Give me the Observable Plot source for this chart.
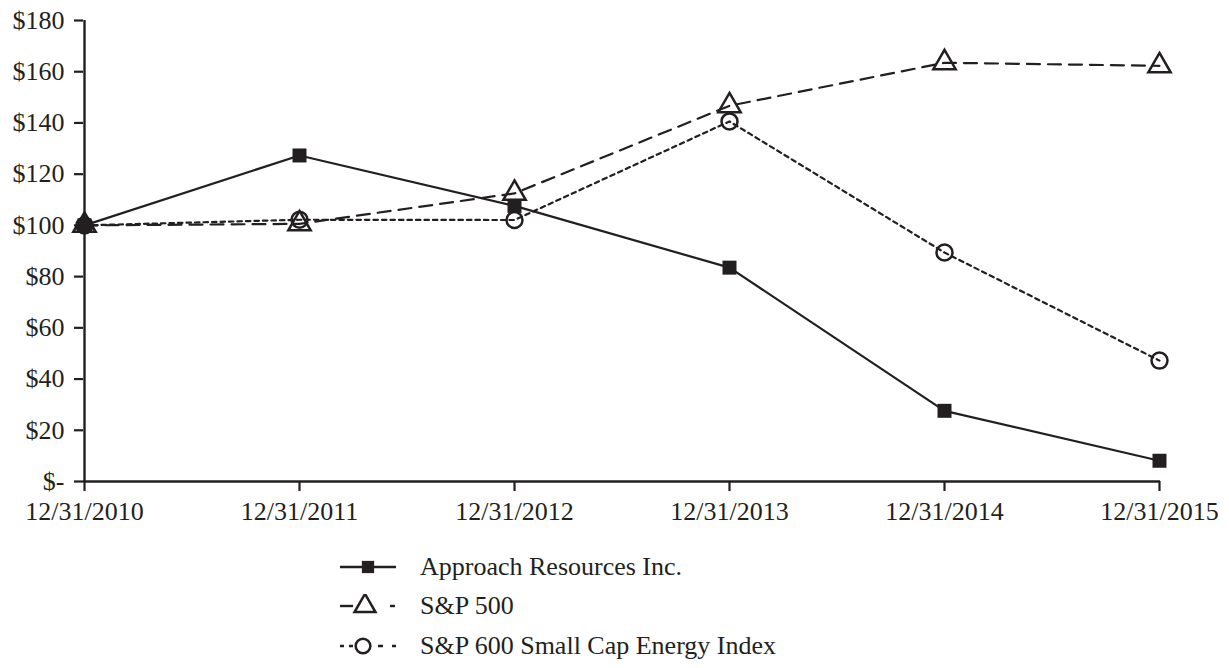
<!DOCTYPE html>
<html>
<head>
<meta charset="utf-8">
<script src="https://cdn.jsdelivr.net/npm/d3@7"></script>
<script src="https://cdn.jsdelivr.net/npm/@observablehq/plot@0.6"></script>
<style>
  html, body { margin: 0; padding: 0; background: #fff; }
  body { width: 1229px; height: 668px; overflow: hidden; font-family: "Liberation Serif", serif; color: #231f20; }
  #legend { position: absolute; left: 338px; top: 547px; }
  .row { display: flex; align-items: center; height: 39.5px; font-size: 26px; }
  .row svg { margin-right: 20px; }
</style>
</head>
<body>
<div id="chart"></div>
<div id="legend"></div>
<script>
const dates = ["12/31/2010", "12/31/2011", "12/31/2012", "12/31/2013", "12/31/2014", "12/31/2015"];
const approach = [100, 127.3, 107.6, 83.5, 27.6, 8.1];
const sp500 = [100, 100.6, 112.5, 146.7, 163.5, 162.3];
const energy = [100, 102.2, 102.1, 140.6, 89.4, 47.2];
const yTicks = [0, 20, 40, 60, 80, 100, 120, 140, 160, 180];
const seriesNames = ["Approach Resources Inc.", "S&P 500", "S&P 600 Small Cap Energy Index"];

const ink = "#231f20";
const rows = (vals) => dates.map((d, i) => ({date: d, value: vals[i]}));
const A = rows(approach), S = rows(sp500), E = rows(energy);

const chart = Plot.plot({
  width: 1229,
  height: 530,
  marginLeft: 83,
  marginRight: 69,
  marginTop: 20,
  marginBottom: 49,
  style: {fontFamily: "Liberation Serif", fontSize: "26px", color: ink, background: "#fff"},
  x: {type: "point", domain: dates, padding: 0, label: null},
  y: {domain: [0, 180], label: null},
  marks: [
    Plot.axisY({ticks: yTicks, tickSize: 9, tickPadding: 10, strokeWidth: 2.2, stroke: ink, fill: ink,
      tickFormat: d => d === 0 ? "$-" : "$" + d, fontSize: 26}),
    Plot.axisX({tickSize: 10, tickPadding: 10, strokeWidth: 2.2, stroke: ink, fill: ink, fontSize: 26}),
    Plot.ruleY([0], {stroke: ink, strokeWidth: 2.4}),
    Plot.ruleX([dates[0]], {y1: 0, y2: 180, stroke: ink, strokeWidth: 2.4}),
    Plot.line(S, {x: "date", y: "value", stroke: ink, strokeWidth: 2.2, strokeDasharray: "13,8"}),
    Plot.line(E, {x: "date", y: "value", stroke: ink, strokeWidth: 2.2, strokeDasharray: "4.5,4"}),
    Plot.line(A, {x: "date", y: "value", stroke: ink, strokeWidth: 2.2}),
    Plot.dot(S, {x: "date", y: "value", symbol: "triangle", r: 8.3, stroke: ink, strokeWidth: 2.5, fill: "none"}),
    Plot.dot(E, {x: "date", y: "value", symbol: "circle", r: 8, stroke: ink, strokeWidth: 2.5, fill: "none"}),
    Plot.dot(A, {x: "date", y: "value", symbol: "square", r: 7.9, fill: ink, stroke: "none"})
  ]
});
document.getElementById("chart").appendChild(chart);

// Legend
const legend = d3.select("#legend");
const styles = [
  {symbol: d3.symbolSquare, size: 150, fill: ink, stroke: "none", cx: 30},
  {symbol: d3.symbolTriangle, size: 190, fill: "none", stroke: ink, cx: 27},
  {symbol: d3.symbolCircle, size: 170, fill: "none", stroke: ink, cx: 25}
];
seriesNames.forEach((name, i) => {
  const st = styles[i];
  const row = legend.append("div").attr("class", "row");
  const svg = row.append("svg").attr("width", 62).attr("height", 24);
  const seg = (x1, x2, dash) => {
    const l = svg.append("line").attr("x1", x1).attr("x2", x2).attr("y1", 12).attr("y2", 12)
      .attr("stroke", ink).attr("stroke-width", 2.4);
    if (dash) l.attr("stroke-dasharray", dash);
  };
  if (i === 0) {
    seg(2, 58);
  } else if (i === 1) {
    seg(2, 15); seg(52, 57);
  } else {
    seg(2, 15, "4,5"); seg(40, 58, "5,9");
  }
  svg.append("path").attr("d", d3.symbol(st.symbol, st.size)()).attr("transform", `translate(${st.cx},12)`)
    .attr("fill", st.fill).attr("stroke", st.stroke).attr("stroke-width", 2.5);
  row.append("span").text(name);
});
</script>
</body>
</html>
